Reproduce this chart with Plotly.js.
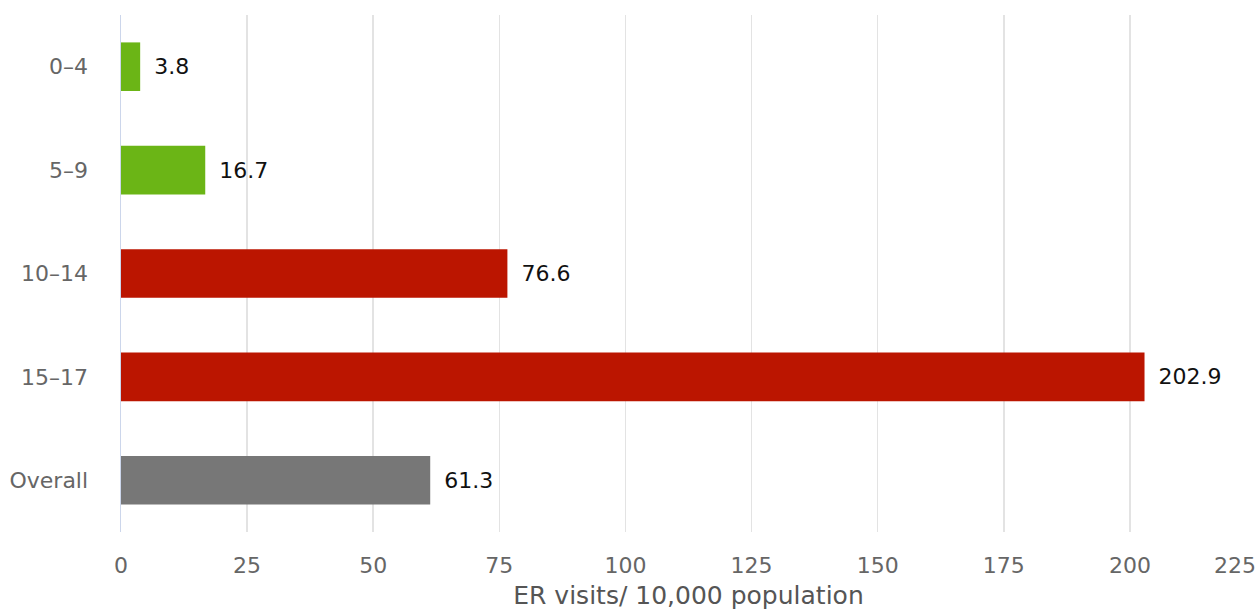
<!DOCTYPE html>
<html><head><meta charset="utf-8">
<script src="https://cdn.plot.ly/plotly-3.0.1.min.js"></script>
<style>html,body{margin:0;padding:0;background:#fff}#chart{width:1257px;height:610px}</style>
</head><body><div id="chart"></div>
<script>
const categories = ["0–4", "5–9", "10–14", "15–17", "Overall"];
const values = [3.8, 16.7, 76.6, 202.9, 61.3];
const barColors = ["#6bb516", "#6bb516", "#bb1500", "#bb1500", "#777777"];
const xTicks = [0, 25, 50, 75, 100, 125, 150, 175, 200];
const xLastTick = [225];
const xTitle = "ER visits/ 10,000 population";

const tickFont = {family: "DejaVu Sans", size: 22, color: "#666"};
const trace = {
  type: "bar", orientation: "h",
  x: values, y: categories,
  marker: {color: barColors, line: {width: 0}},
  text: values.map(v => "\u2002" + v.toFixed(1)),
  textposition: "outside", cliponaxis: false,
  textfont: {family: "DejaVu Sans", size: 22, color: "#111"},
  hoverinfo: "none"
};
const dummy = {type: "scatter", x: [0], y: [categories[0]], xaxis: "x2", mode: "markers",
  marker: {opacity: 0}, hoverinfo: "none"};
const layout = {
  width: 1257, height: 610,
  margin: {l: 121, r: 1, t: 15, b: 78},
  paper_bgcolor: "#fff", plot_bgcolor: "#fff",
  showlegend: false, bargap: 0.53,
  xaxis: {
    range: [0, 225], tickvals: xTicks, ticktext: xTicks.map(String),
    showgrid: true, gridcolor: "#e3e3e3", gridwidth: 1.5,
    zeroline: false, showline: false, ticks: "",
    ticklabelstandoff: 18,
    tickfont: tickFont,
    title: {text: xTitle, standoff: 9, font: {family: "DejaVu Sans", size: 25, color: "#555"}}
  },
  xaxis2: {
    overlaying: "x", matches: "x", side: "bottom", anchor: "y",
    tickvals: xLastTick, ticktext: xLastTick.map(String),
    ticklabelposition: "outside left", ticklabelstandoff: 18,
    showgrid: false, zeroline: false, showline: false, ticks: "",
    tickfont: tickFont
  },
  yaxis: {
    autorange: "reversed", type: "category",
    showline: true, linecolor: "#ccd6eb", linewidth: 1.5,
    showgrid: false, zeroline: false, ticks: "",
    ticklabelstandoff: 27,
    tickfont: tickFont
  }
};
Plotly.newPlot("chart", [trace, dummy], layout, {displayModeBar: false, staticPlot: true});
</script></body></html>
